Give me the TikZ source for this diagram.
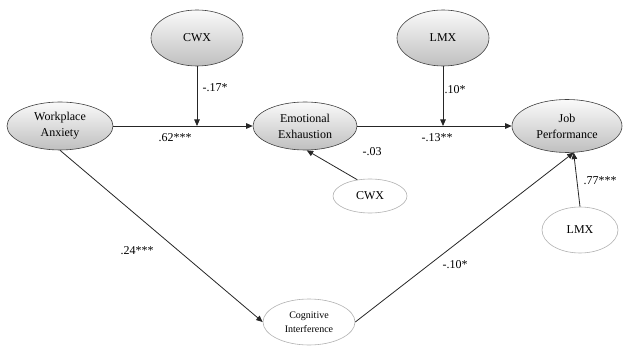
\documentclass[tikz,border=0pt]{standalone}
\usepackage{fontspec}
\setmainfont{Liberation Serif}
\usetikzlibrary{arrows.meta,calc,shapes.geometric}
\begin{document}
\begin{tikzpicture}[x=1pt,y=-1pt,
  mainvar/.style={ellipse,draw=black!75,line width=0.6pt,top color=gray!4,bottom color=gray!50,
     minimum width=#1,inner sep=0pt,align=center,font=\fontsize{12}{16}\selectfont},
  sidevar/.style={ellipse,draw=black!30,line width=0.6pt,fill=white,inner sep=0pt,align=center},
  arr/.style={draw=black!85,line width=0.8pt,-{Triangle[length=6.5pt,width=5.5pt]}},
  lbl/.style={font=\fontsize{12}{13}\selectfont,inner sep=0pt},
]
\useasboundingbox (0,0) rectangle (631,347);
\node[mainvar=92pt,minimum height=56pt] (cwx) at (197,38) {CWX};
\node[mainvar=92pt,minimum height=56pt] (lmx) at (443,38) {LMX};
\node[mainvar=106pt,minimum height=48pt] (wa) at (60,126) {Workplace\\Anxiety};
\node[mainvar=104pt,minimum height=48pt] (ee) at (305,126) {Emotional\\Exhaustion};
\node[mainvar=110pt,minimum height=53pt] (jp) at (567,126) {Job\\Performance};
\node[sidevar,minimum width=74pt,minimum height=34pt,font=\fontsize{12}{13}\selectfont] (cwx2) at (370,196) {CWX};
\node[sidevar,minimum width=76pt,minimum height=46pt,font=\fontsize{12}{13}\selectfont] (lmx2) at (580,230) {LMX};
\node[sidevar,minimum width=92pt,minimum height=46pt,font=\fontsize{10}{14.5}\selectfont] (ci) at (309,322) {Cognitive\\Interference};
\coordinate (m1) at (cwx.south |- wa.east);
\coordinate (m2) at (lmx.south |- ee.east);
\coordinate (jpin) at (jp.-76);
\draw[arr] (wa.east) -- (ee.west);
\draw[arr] (ee.east) -- (jp.west);
\draw[arr] (cwx.south) -- (m1);
\draw[arr] (lmx.south) -- (m2);
\draw[arr] (cwx2.128) -- (ee.-86);
\draw[arr] (lmx2.north) -- (jpin);
\draw[arr] (wa.south) -- (ci.west);
\draw[arr] (ci.east) -- (jpin);
\node[lbl] (l1) at (215,88) {-.17*};
\node[lbl] (l2) at (175,138) {.62***};
\node[lbl] (l3) at (455,90) {.10*};
\node[lbl] (l4) at (437,138) {-.13**};
\node[lbl] (l5) at (372,152) {-.03};
\node[lbl] (l6) at (137,251) {.24***};
\node[lbl] (l7) at (455,265) {-.10*};
\node[lbl] (l8) at (600,181) {.77***};
\end{tikzpicture}
\end{document}
